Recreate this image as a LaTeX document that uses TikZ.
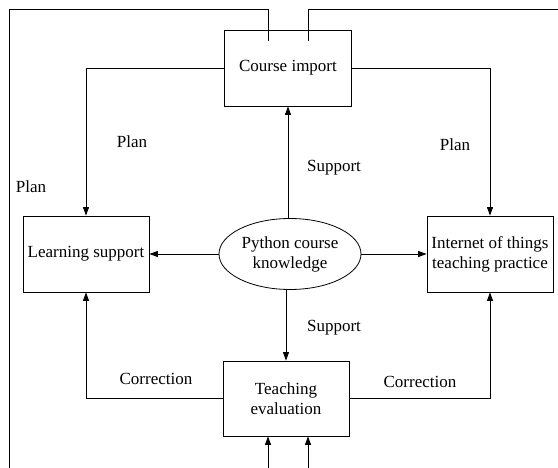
\documentclass[tikz,border=0pt]{standalone}
\usepackage{fontspec}
\setmainfont{Liberation Serif}
\usetikzlibrary{shapes.geometric, arrows.meta, positioning}
\tikzset{
    block/.style={rectangle, draw=black, minimum width=126pt, minimum height=76pt, inner sep=0pt, text centered, align=center, line width=0.8pt},
    hub/.style={ellipse, draw=black, minimum width=142pt, minimum height=71pt, inner sep=0pt, align=center, line width=0.8pt},
    arrow/.style={line width=0.8pt, -{Triangle[length=8.5pt, width=6pt]}},
    wire/.style={line width=0.8pt},
    tag/.style={inner sep=0pt}
}

\begin{document}
\begin{tikzpicture}[x=1pt, y=-1pt, font=\fontsize{17}{20}\selectfont]
        \useasboundingbox (0,0) rectangle (558,468);

        % Nodes
        \node (course) [block, minimum width=127pt] at (288,68) {Course import};

        \node (know) [hub] at (290,254) {Python course\\knowledge};

        \node (learn) [block] at (86,254) {Learning support};

        \node (iot) [block] at (490,254) {Internet of things\\teaching practice};

        \node (eval) [block, minimum height=75pt] at (286,398.5) {Teaching\\evaluation};

        % Labels
        \node (plan1) [tag] at (132,142) {Plan};
        \node (plan2) [tag] at (455,145) {Plan};
        \node (plan3) [tag] at (31,187) {Plan};
        \node (sup1) [tag] at (334,168) {Support};
        \node (sup2) [tag] at (334,328) {Support};
        \node (cor1) [tag] at (156,379) {Correction};
        \node (cor2) [tag] at (420,382) {Correction};

        % Loose ends
        \coordinate (inL) at (268,41);
        \coordinate (inR) at (308,41);
        \coordinate (outL) at (268,468);
        \coordinate (outR) at (308,468);

        % Arrows
        \draw[arrow] (know.north -| course.south) -- (course.south);
        \draw[arrow] (know.west) -- (learn.east);
        \draw[arrow] (know.east) -- (iot.west);
        \draw[arrow] (know.south -| eval.north) -- (eval.north);
        \draw[arrow] (course.west) -| (learn.north);
        \draw[arrow] (course.east) -| (iot.north);
        \draw[arrow] (eval.west) -| (learn.south);
        \draw[arrow] (eval.east) -| (iot.south);
        \draw[arrow] (outL) -- (outL |- eval.south);
        \draw[arrow] (outR) -- (outR |- eval.south);
        \draw[wire] (inL) -- (268,9) -- (9,9) -- (9,468);
        \draw[wire] (inR) -- (308,9) -- (558,9);

    \end{tikzpicture}
\end{document}
